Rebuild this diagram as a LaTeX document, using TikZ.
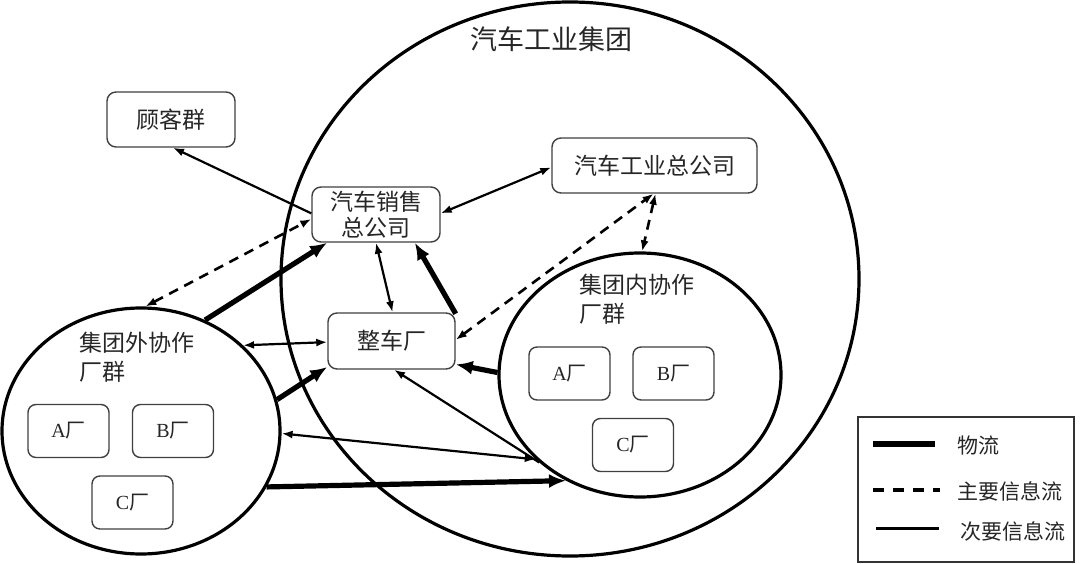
\documentclass[tikz,border=0pt]{standalone}
\usepackage{fontspec}
\setmainfont{Noto Sans CJK SC}
\newfontfamily\latinf{Liberation Serif}
\usetikzlibrary{shapes.geometric,arrows.meta}
\begin{document}
\begin{tikzpicture}[x=1pt,y=-1pt,
  grp/.style={draw, ellipse, line width=3.2pt, inner sep=0pt},
  box/.style={draw=black!75, line width=1.4pt, rounded corners=9pt, fill=white, inner sep=0pt,
    font=\fontsize{23}{26}\selectfont, align=center, text=black!85},
  fbox/.style={draw=black!75, line width=1.4pt, rounded corners=8pt, fill=white, inner sep=0pt,
    minimum width=81pt, minimum height=53pt, font=\fontsize{20}{22}\selectfont, text=black!85},
  lbl/.style={font=\fontsize{23}{29}\selectfont, align=left, anchor=west, text=black!85},
  secinfo/.style={line width=2.2pt, >={Latex[length=11pt,width=8pt]}},
  keyinfo/.style={line width=2.6pt, dash pattern=on 10pt off 7pt, >={Latex[length=11pt,width=8pt]}},
  matflow/.style={line width=5.2pt, >={Latex[length=17pt,width=14pt]}, ->}
]
\useasboundingbox (0,0) rectangle (1080,564);

% groups
\node[grp, minimum width=578pt, minimum height=554pt] (group) at (570,279) {};
\node[grp, minimum width=278pt, minimum height=246pt] (outer) at (141,431) {};
\node[grp, minimum width=282pt, minimum height=244pt] (inner) at (640,375) {};

\node[font=\fontsize{27}{30}\selectfont, text=black!85] (title) at (551,39) {汽车工业集团};
\node[lbl] (outerlbl) at (76,357.5) {集团外协作\\厂群};
\node[lbl] (innerlbl) at (576,299) {集团内协作\\厂群};

% boxes
\node[box, minimum width=128pt, minimum height=55pt] (cust) at (171,119.5) {顾客群};
\node[box, minimum width=128pt, minimum height=55pt] (sales) at (376,214.5) {汽车销售\\总公司};
\node[box, minimum width=127pt, minimum height=56pt] (plant) at (391.5,341) {整车厂};
\node[box, minimum width=205pt, minimum height=55pt] (hq) at (654.5,165.5) {汽车工业总公司};

\node[fbox] (oA) at (68.5,431) {{\latinf A}厂};
\node[fbox] (oB) at (173,431) {{\latinf B}厂};
\node[fbox] (oC) at (132.5,502.5) {{\latinf C}厂};
\node[fbox] (iA) at (569.5,373.5) {{\latinf A}厂};
\node[fbox] (iB) at (673.5,373.5) {{\latinf B}厂};
\node[fbox] (iC) at (633,445) {{\latinf C}厂};

% connectors
\draw[secinfo,->] (sales.179) -- (cust.-86);
\draw[keyinfo,<->] (outer.88) -- (sales.184);
\draw[matflow] (outer.60) -- (sales.-150);
\draw[secinfo,<->] (sales.1) -- (hq.181);
\draw[secinfo,<->] (sales.-90) -- (plant.88);
\draw[matflow] (plant.23) -- (sales.-36);
\draw[keyinfo,<->] (plant.1) -- (hq.-92);
\draw[keyinfo,<->] (hq.-88) -- (inner.89);
\draw[secinfo,<->] (outer.40) -- (plant.181);
\draw[matflow] (outer.13) -- (plant.-158);
\draw[matflow] (inner.179) -- (plant.-20);
\draw[secinfo,->] (inner.-139) -- (plant.-85);
\draw[secinfo,<->] (outer.-1) -- (inner.-141);
\draw[matflow] (outer.-24) -- (inner.-125);

% legend
\node[draw=black!80, line width=1.2pt, minimum width=216pt, minimum height=145pt, inner sep=0pt] (legend) at (966,489.5) {};
\draw[line width=6pt] (873,444) -- (935,444);
\draw[line width=3.4pt, dash pattern=on 11pt off 9pt] (873,490) -- (940,490);
\draw[line width=3pt] (876,528) -- (939,528);
\node[anchor=west, font=\fontsize{21}{24}\selectfont, text=black!85] (lg1) at (954,446) {物流};
\node[anchor=west, font=\fontsize{21}{24}\selectfont, text=black!85] (lg2) at (954,491) {主要信息流};
\node[anchor=west, font=\fontsize{21}{24}\selectfont, text=black!85] (lg3) at (957,531) {次要信息流};
\end{tikzpicture}
\end{document}
